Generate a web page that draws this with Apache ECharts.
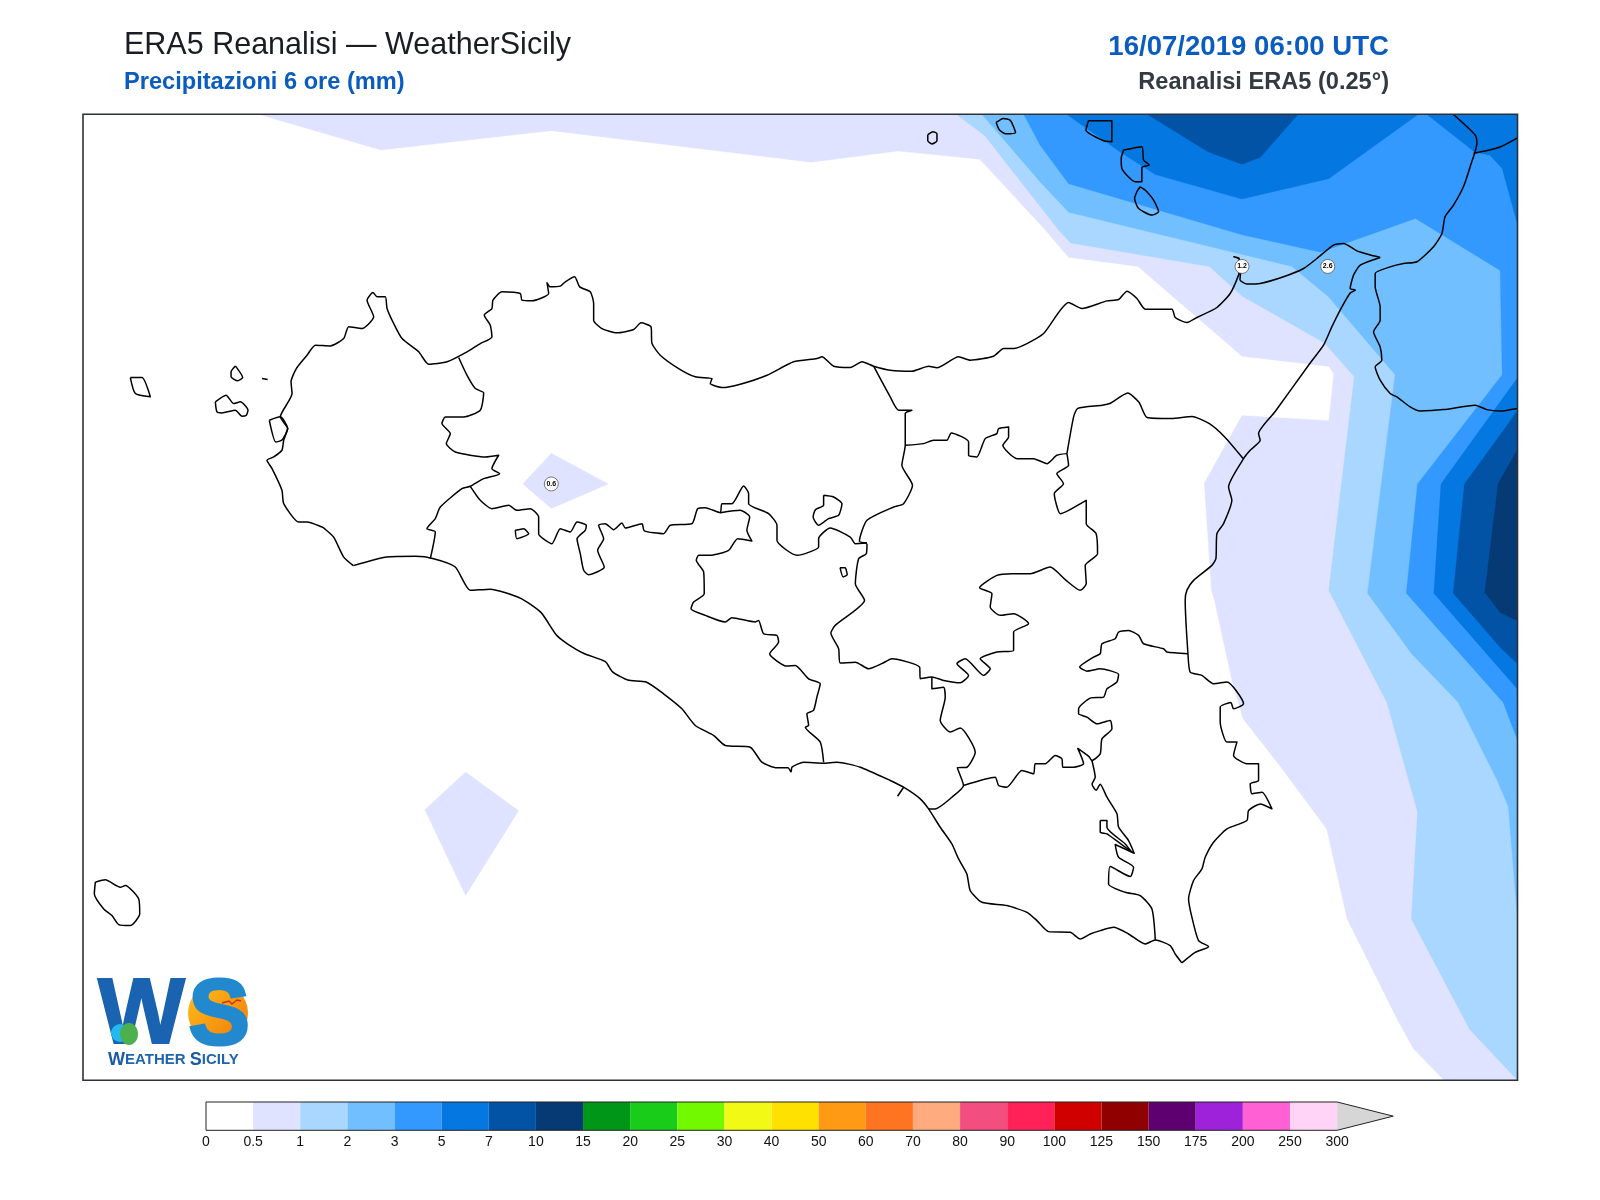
<!DOCTYPE html>
<html>
<head>
<meta charset="utf-8">
<title>ERA5 Reanalisi</title>
<script src="https://cdn.jsdelivr.net/npm/echarts@6/dist/echarts.min.js"></script>
<style>
  html, body { margin: 0; padding: 0; background: #fff; }
  #chart { width: 1600px; height: 1200px; }
</style>
</head>
<body>
<div id="chart"></div>
<script>
// colour scale
const cbarTicks = ['0','0.5','1','2','3','5','7','10','15','20','25','30','40','50','60','70','80','90','100','125','150','175','200','250','300'];
const cbarColors = ['#ffffff','#dfe3ff','#a9d7ff','#72bfff','#3399ff','#0577e0','#0253a6','#053a75','#009618','#1acc1a','#72f900','#f2f915','#ffe100','#ff9a14','#ff7420','#ffab80','#f24e80','#ff2157','#d10000','#900000','#5e0070','#9d22d9','#ff61d4','#ffd4f6'];

// filled rain bands (map units), lowest level first
const rain05main = [[253,112],[373,147],[540,128],[795,159],[880,148],[960,156],[1024,225],[1047,252],[1115,261],[1217,349],[1302,359],[1307,366],[1302,412],[1217,407],[1180,473],[1187,578],[1190,588],[1207,666],[1218,704],[1254,750],[1300,812],[1320,900],[1370,1000],[1385,1027],[1415,1058],[1487,1058],[1487,112]];
const rain05north = [[540,444],[596,474],[540,498],[512,474]];
const rain05south = [[456,756],[508,794],[456,877],[416,793]];
const rain1 = [[937,112],[965,133],[1037,225],[1049,238],[1185,261],[1217,290],[1298,336],[1327,369],[1302,578],[1359,688],[1389,795],[1383,900],[1440,1008],[1487,1058],[1487,112]];
const rain2 = [[962,112],[1019,178],[1047,208],[1266,261],[1302,291],[1367,367],[1340,581],[1383,640],[1429,688],[1467,764],[1478,790],[1487,900],[1487,112]];
const rain3 = [[1003,112],[1019,142],[1047,180],[1217,230],[1294,247],[1387,214],[1470,265],[1472,367],[1389,474],[1378,581],[1473,688],[1487,725],[1487,112]];
const rain5north = [[1045,112],[1099,150],[1132,171],[1217,195],[1302,175],[1387,114],[1390,112]];
const rain5east = [[1398,112],[1445,149],[1460,152],[1472,165],[1487,220],[1487,112]];
const rain5south = [[1487,370],[1412,474],[1405,581],[1487,675]];
const rain7north = [[1124,112],[1184,149],[1217,161],[1235,154],[1272,112]];
const rain7south = [[1487,402],[1470,426],[1435,474],[1424,581],[1470,634],[1487,650]];
const rain10south = [[1487,440],[1468,474],[1455,580],[1470,600],[1487,608]];

const rainBands = [
  [1, rain05main], [1, rain05north], [1, rain05south],
  [2, rain1], [3, rain2], [4, rain3],
  [5, rain5north], [5, rain5east], [5, rain5south],
  [6, rain7north], [6, rain7south], [7, rain10south]
];

// coast of the main island
const coastNorth = [[346,554],[336.5,545.6],[326.7,526],[318,518],[315.3,516.2],[300.6,511.3],[292.4,511.3],[277.7,493.3],[276,480.2],[266.3,459],[261.3,450.8],[267.9,447.6],[276,441],[277.7,431.2],[281.6,419.8],[274.4,408.3],[285.9,385.5],[284.9,374],[290.1,361],[300.6,347.9],[308.7,338.1],[323.4,338.8],[336.5,331.6],[341.4,320.1],[354.5,321.8],[365.9,310.3],[359.4,294],[365.2,286.5],[369.2,290.7],[377.3,290.7],[379,302.2],[385.5,316.9],[393.7,331.6],[410,344.6],[419.8,356.7],[437.8,354.4],[457.4,344.6],[470.4,336.5],[481.8,330],[480.2,318.5],[474.3,308.7],[481.8,302.2],[482.8,294],[491.6,285.8],[509.6,287.5],[511.2,294],[521,294.7],[537.4,287.5],[535.8,277],[539,281],[548.8,280.3],[553.7,276],[562.9,271.1],[567.8,281],[578.2,285.8],[581.5,297.3],[581.5,313.6],[589.6,321.8],[604.4,326],[620.7,322.8],[627.9,316.2],[637.7,320.1],[638.7,336.5],[646.8,347.9],[664.8,361],[681.1,369.1],[697.5,370.8],[695.8,375.7],[707.2,379.6],[725.2,376.3],[751.4,367.5],[777.5,354.4],[800.4,351.2],[805.3,349.5],[816.7,358.7],[833,360],[844.5,354.4],[855.9,358.7],[872.2,362.6],[893.4,363.6],[909.8,358.7],[917.9,360.3],[939.2,349.5],[950.6,352.8],[973.5,348.9],[983.3,341.4],[993.1,341.4],[1006.2,336.5],[1022.5,326.7],[1047,296.3],[1060,302.2],[1084.6,294.7],[1096,293.4],[1104.2,285.2],[1114,292.4],[1122.1,302.8],[1148.3,302.8],[1151.5,311],[1163,315.9],[1172.8,311],[1192.4,301.2],[1205.4,287.5],[1213.6,269.5],[1215,262],[1214,253],[1209,251.5],[1214,253.5],[1216,262],[1215,274],[1221.8,278.3],[1234.8,277.7],[1257.7,271.1],[1277.3,263],[1290.4,253.2],[1306.7,240.1],[1316.5,238.5],[1329.6,245.7],[1345.9,250.6],[1352.4,252.2]];
const coastEast = [[1352.4,252.2],[1332.8,259.7],[1326.3,269.5],[1323,282.6],[1328,284.2],[1323,287],[1314.9,300.6],[1305,320.2],[1296.9,338.1],[1282.2,357.7],[1249.5,403],[1233.2,424.7],[1234.8,431.2],[1225,441],[1218.5,449.2],[1203.8,477],[1207,490],[1198.9,512.9],[1192.4,522.7],[1191.4,547.2],[1187.5,553.7],[1169.5,568.4],[1163,578],[1161.3,588],[1164,640.3],[1166.2,658.2],[1177.7,661.5],[1189.1,669.7],[1202.2,668],[1218.5,689.3],[1208.7,694.2],[1206,688],[1195.6,692.5],[1195.6,707.2],[1202.2,726.8],[1212,726.8],[1208.7,739.9],[1221.8,748],[1233.2,748],[1233.2,764.4],[1225,767.7],[1226.7,777.5],[1236.5,775.9],[1246.3,792.2],[1234.8,787.3],[1223.4,793.8],[1221.8,803.6],[1202.2,811.8],[1189.1,824.9],[1180.9,839.6],[1177.7,851],[1169.5,862.4],[1164.6,880.4],[1167.9,898.4],[1174.4,921.2],[1184.2,927.1],[1171.1,932.7],[1158,943]];
const coastSouth = [[1158,943],[1151.5,934.3],[1146.6,926.1],[1132,920.6],[1122.1,924.5],[1105.8,914.7],[1091.1,908.2],[1078,911.4],[1068.2,914.7],[1058.4,919.6],[1048.6,913.1],[1027.4,912.4],[1016,901.6],[1006.2,893.5],[986.5,886.9],[962,883.7],[950.6,872.2],[947.3,855.9],[939.2,841.2],[932.6,826.5],[921.2,810.2],[909.8,792.2],[901.6,782.4],[885.3,771],[872.2,764.4],[842.8,751.4],[820,746.5],[806.9,747.4],[787.3,746.5],[775.9,751.4],[775,756],[772,752],[761.1,752],[746.4,746.5],[735,731.8],[710.5,730.1],[699,720.3],[681.1,710.5],[668,694.2],[650,679.5],[633,668],[615,666],[600,658],[593,648],[572,640],[555,630],[545,622],[530,600],[510,586],[480,577],[460.6,578.2],[445.9,555.3],[424.7,547.2],[406.7,544.9],[378.9,545.6],[346,554]];

// islands
const stagnone = [[263.6,411.6],[274.4,408.3],[281.6,419.8],[276,431],[270,433],[263.6,411.6]];
const marettimo = [[127.4,369.8],[138.8,369.8],[147,388.7],[132.3,385.5],[127.4,369.8]];
const favignana = [[210.7,393.6],[221.2,387.1],[228.7,395.3],[235.2,393.6],[242.7,401.8],[241.1,406.7],[236.8,407.7],[230.3,401.8],[217.2,404.4],[212.3,403.5],[210.7,393.6]];
const levanzo = [[230.3,358.4],[237.5,369.8],[232,373],[226.1,369.1],[226.1,364.2],[230.3,358.4]];
const formica = [[256.5,370.8],[262,371.8]];
const ustica = [[909,132],[914,129],[918,131],[918,138],[913,141],[909,138],[909,132]];
const filicudi = [[976,120],[983,116],[990,118],[995,130],[985,131],[979,127],[976,120]];
const salina = [[1066.6,118.3],[1089.4,118.3],[1089.4,138.8],[1081.3,137.9],[1064,127.4],[1066.6,118.3]];
const lipari = [[1100.9,147],[1118.8,143.7],[1120.5,156.8],[1126,161.7],[1118.8,164],[1118.8,178],[1112.3,178],[1099.2,165],[1098.6,155],[1100.9,147]];
const vulcano = [[1117.2,183],[1122,186.2],[1130.3,196],[1135.2,207.4],[1128.6,210.7],[1115.6,204.2],[1111.7,194.4],[1114,187.8],[1117.2,183]];
const pantelleria = [[93.1,864],[102.9,861.7],[117.6,869],[122.5,867.3],[135.6,880.4],[136.6,895],[127.4,906.5],[116,905.5],[109.4,896.7],[101.3,890.2],[92.1,875.5],[93.1,864]];

// Calabria, top right
const calabria = [[1424,112],[1445.5,132.3],[1447.2,140.5],[1440.6,163.3],[1434,183],[1424.3,200.9],[1416,212.3],[1412.9,228.7],[1404.7,241.7],[1388.4,256.4],[1375.3,258.1],[1362.2,261.4],[1347.5,267.9],[1347.5,281],[1352.4,300.6],[1352.4,313.6],[1345.9,325],[1352.4,339.8],[1354,352.8],[1347.5,359.3],[1352.4,372.4],[1362.2,385.5],[1368.7,388.7],[1381.8,398.5],[1391.6,402.5],[1414.5,401.2],[1445.5,396.9],[1457,401.2],[1470,402.5],[1487,400]];
const calabriaBorder = [[1443.9,150.3],[1455,148],[1470,144],[1487,135]];

// province borders
const borderTrapani = [[449.2,350.2],[457.3,367.5],[465.5,380.6],[473.7,384.8],[470.4,401.8],[454,408.4],[436.1,408.4],[432.8,414.9],[441,424.7],[437.1,434.5],[445.9,442.7],[475.3,447.6],[488.4,445.9],[481.8,459],[489.4,463.9],[473.7,468.8],[460.6,476.3],[452.4,478.6],[431.2,496.6],[426.3,508],[418.1,517.8],[426.3,521],[421.4,547.2]];
const borderPalermoSouth = [[460.6,476.3],[470.4,490],[481.8,498.2],[498.2,494.9],[506.3,499.8],[519.4,498.2],[527.6,506.4],[527.6,522.7],[540.6,532.5],[548.8,517.8],[558.6,521],[565.2,511.3],[574.3,514.5],[573.3,519.4],[565.2,527.6],[568.4,542.3],[571.7,558.6],[576.6,562.9],[591.9,555.4],[585.4,539],[591.3,527.6],[586.4,514.5],[592.9,512.9],[601,518.8],[609.2,512.2],[612.5,517.1],[628.9,512.9],[631.1,520],[650,522.7],[656.6,514.5],[677.9,512.9],[683.4,498.2],[690.9,497.2],[705.6,502.1],[707.2,493.3],[717,493.3],[728.5,476],[733.4,483.5],[733.4,493.3],[753,503.1],[761.2,514.5],[761.2,529.2],[780.8,543.9],[802,535.8],[802,527.6],[813.4,517.1],[833,526],[838,532.5],[849.4,531.9]];
const borderAgrigento = [[705.6,502.1],[725.2,499.8],[734.4,506.3],[731.7,519.4],[736.6,529.9],[722.6,527.6],[713.8,539],[695.8,543.9],[684.4,543.9],[682.1,548.8],[689.3,560.2],[689.9,581.5],[679.5,589.6],[676.9,596.2],[690.9,602.7],[710.5,609.2],[717,605],[740,609.2],[743.2,607.6],[748.1,620.7],[761.1,622.3],[762.8,628.8],[754,640.3],[771,652.4],[779.1,651.7],[792.2,664.8],[803.6,669.7],[800.3,682.8],[797,695.8],[790.5,699.1],[792.2,710.5],[789,712.2],[803.6,726.8],[806.9,746.5]];
const borderMadonie = [[849.4,531.9],[842,530],[849.4,509.6],[875.5,496.6],[885.3,493.3],[894,475.3],[883.6,455.7],[886.9,436.1],[886.9,418.2],[886.9,405],[893.4,401.8],[880.4,401.8],[872.2,388.8],[855.9,358.7]];
const borderNebrodi = [[886.9,436.1],[904.9,434.5],[914.7,431.2],[927.7,431.2],[932,424],[949,432.9],[949,445.9],[957.1,447.6],[965.3,429.6],[976.7,424.7],[978.4,419.8],[988.2,418.2],[988.2,428],[982.6,436.1],[996.4,449.2],[1012.7,449.2],[1025.8,454.1],[1035.5,445.9],[1045.4,444.3]];
const borderEtna = [[1045.4,444.3],[1047,455.7],[1035.5,463.9],[1042,473.7],[1033,483.5],[1038.8,503.1],[1047,499.8],[1064.3,490],[1064.3,512.9],[1074,522.7],[1075.4,542.3],[1063.3,553.7],[1064.3,571.7],[1058.4,578.2],[1044,568],[1029,555.4],[1009.4,561.9],[991.4,561.9],[976.7,563.5],[959.8,575.6],[971.9,581.5],[970.2,594.5],[980,602.7],[993.1,601],[1007.8,610.9],[993.1,619],[993.1,637],[976.8,638.6],[960.4,645.2],[970.2,655],[963.7,661.5],[945.7,645.2],[937.6,650],[949,661.5],[940.8,668.7],[924.5,666.4],[913,663.1],[901.6,664.8],[901,653.4],[873.9,645.2],[864,650],[851,655],[838,648.5],[823.2,649.4],[821.6,635.4],[814,620],[818.3,612.5],[847,588],[838,571.7],[841.2,547.2],[848.7,542.3],[849.4,532.5]];
const borderMessinaEast = [[1045.4,444.3],[1052,408],[1056,400],[1080,397],[1088,395],[1105,385],[1116,394],[1124,409],[1148,410],[1168,408],[1185,415],[1200,428],[1218,449]];
const borderCaltanissetta = [[913,663.1],[913,674.6],[924.5,673],[926.1,682.8],[921.2,705.6],[931,717],[940.8,713],[955.5,736.7],[947.4,751.4],[938,752],[944,769.3],[932.6,780.8],[916.3,792.2],[909.8,792.2]];
const borderCatania = [[944,769.3],[975,761.2],[978.4,769.3],[986.5,771],[1001.2,754.6],[1012.7,757.9],[1014.3,748],[1024.1,748],[1033.9,739.9],[1040.5,743.2],[1041.4,751.4],[1051.9,751.4],[1061.7,748],[1056,733],[1067,741],[1069.9,744.8],[1078,738.3],[1079.7,723.6],[1089.5,713.8],[1087.8,705.6],[1074.8,708.9],[1065,702.3],[1056.8,699.1],[1056.8,694.2],[1068.2,683.7],[1081.3,682.7],[1084.6,674.6],[1094.4,668],[1096,660.5],[1078,655],[1065,657.3],[1057.8,653.3],[1071.5,643.5],[1078,640.3],[1079.7,630.5],[1092.7,625.6],[1096,619],[1105.8,617.4],[1115.6,622.3],[1120.5,630.5],[1140,635.4],[1143.4,638.6],[1164,640.3]];
const borderRagusa = [[1069.9,744.8],[1073.1,761.2],[1070,768],[1074,774],[1078,768],[1084.6,780.8],[1094.4,797],[1096,810],[1105.8,823.2],[1111.3,835.6],[1092.7,827.1],[1096,839.6],[1110.7,849.4],[1107.4,858.5],[1087.8,848.7],[1086.2,865.7],[1102.5,873.9],[1117.2,877.1],[1128.7,890.2],[1132,920.6]];

// small lakes and inlets
const lakePantano = [[1078,803.6],[1084.6,803.6],[1084.6,810.2],[1102.5,826.5],[1109,834.7],[1084.6,816.7],[1078,815],[1078,803.6]];
const lakeEnna = [[823,556],[828,556],[830,563],[826,565],[823,556]];
const lakeArancio = [[504.7,519.4],[512.9,517.8],[517.8,522.7],[506.3,527.6],[504.7,519.4]];
const lakeMadonie = [[806.9,485.1],[816.7,486.8],[824.9,493.3],[821.6,504.7],[811.8,508],[802,514.5],[796.6,506.4],[798.8,499.2],[806.9,494.9],[806.9,485.1]];
const tickGela = [[885.3,771],[879.4,779.8]];

const mapLines = [coastNorth, coastEast, coastSouth, stagnone, marettimo, favignana, levanzo, formica, ustica, filicudi, salina, lipari, vulcano, pantelleria, calabria, calabriaBorder, borderTrapani, borderPalermoSouth, borderAgrigento, borderMadonie, borderNebrodi, borderEtna, borderMessinaEast, borderCaltanissetta, borderCatania, borderRagusa, lakePantano, lakeEnna, lakeArancio, lakeMadonie, tickGela];

// peak values written on the map
const peaks = [[540,474,'0.6'],[1217,261,'1.2'],[1301,261,'2.6']];

// colour bar outline, in cell units
const cbarOutline = [[0,0],[24,0],[25.19,0.5],[24,1],[0,1],[0,0]];
const cbarArrow = [[24,0],[25.19,0.5],[24,1]];

const FONT = '"Liberation Sans", Arial, sans-serif';

let series = [];

series.push({
  type: 'custom',
  name: 'rain',
  xAxisIndex: 0,
  yAxisIndex: 0,
  coordinateSystem: 'cartesian2d',
  silent: true,
  z: 2,
  clip: true,
  data: rainBands.map((b, i) => [i]),
  renderItem: function (params, api) {
    let band = rainBands[api.value(0)];
    return {
      type: 'polygon',
      shape: { points: band[1].map(p => api.coord(p)) },
      style: { fill: cbarColors[band[0]], stroke: cbarColors[band[0]], lineWidth: 0.3 }
    };
  }
});

mapLines.forEach(function (line) {
  series.push({
    type: 'line',
    xAxisIndex: 0,
    yAxisIndex: 0,
    data: line,
    showSymbol: false,
    silent: true,
    animation: false,
    smooth: 0.2,
    z: 3,
    lineStyle: { color: '#000', width: 1.5, join: 'round' }
  });
});

series.push({
  type: 'scatter',
  xAxisIndex: 0,
  yAxisIndex: 0,
  data: peaks,
  symbol: 'circle',
  symbolSize: 14,
  silent: true,
  z: 5,
  itemStyle: { color: '#fff', borderColor: '#444', borderWidth: 0.7, opacity: 1 },
  label: {
    show: true,
    position: 'inside',
    formatter: p => p.value[2],
    color: '#000',
    fontFamily: FONT,
    fontWeight: 'bold',
    fontSize: 7
  }
});

// colour bar cells
series.push({
  type: 'custom',
  name: 'cbar',
  xAxisIndex: 1,
  yAxisIndex: 1,
  coordinateSystem: 'cartesian2d',
  silent: true,
  z: 2,
  data: cbarColors.map((c, i) => [i]),
  renderItem: function (params, api) {
    let i = api.value(0);
    let a = api.coord([i, 1]);
    let b = api.coord([i + 1, 0]);
    return {
      type: 'rect',
      shape: { x: a[0], y: a[1], width: b[0] - a[0], height: b[1] - a[1] },
      style: { fill: cbarColors[i] }
    };
  }
});
series.push({
  type: 'custom',
  name: 'cbarArrow',
  xAxisIndex: 1,
  yAxisIndex: 1,
  coordinateSystem: 'cartesian2d',
  silent: true,
  z: 2,
  data: [[0]],
  renderItem: function (params, api) {
    return {
      type: 'polygon',
      shape: { points: cbarArrow.map(p => api.coord(p)) },
      style: { fill: '#d6d6d6' }
    };
  }
});
series.push({
  type: 'line',
  xAxisIndex: 1,
  yAxisIndex: 1,
  data: cbarOutline,
  showSymbol: false,
  silent: true,
  z: 3,
  clip: false,
  lineStyle: { color: '#222', width: 1 }
});

let option = {
  animation: false,
  backgroundColor: '#fff',
  textStyle: { fontFamily: FONT },
  grid: [
    { left: 83, top: 114.3, width: 1434.5, height: 966, show: false },
    { left: 206, top: 1102, width: 1187.2, height: 28.3, show: false }
  ],
  xAxis: [
    { type: 'value', gridIndex: 0, min: 81, max: 1487, show: false },
    {
      type: 'value',
      gridIndex: 1,
      min: 0,
      max: 25.19,
      interval: 1,
      axisLine: { show: false },
      axisTick: { show: false },
      splitLine: { show: false },
      axisLabel: {
        margin: 5,
        fontSize: 14,
        fontFamily: FONT,
        color: '#111',
        showMaxLabel: false,
        formatter: v => cbarTicks[v] === undefined ? '' : cbarTicks[v]
      }
    }
  ],
  yAxis: [
    { type: 'value', gridIndex: 0, min: 112, max: 1058, inverse: true, show: false },
    { type: 'value', gridIndex: 1, min: 0, max: 1, show: false }
  ],
  series: series,
  graphic: [
    { type: 'text', left: 124, top: 30, z: 10, style: { text: 'ERA5 Reanalisi \u2014 WeatherSicily', font: '30.5px ' + FONT, fill: '#1a1d24' } },
    { type: 'text', left: 124, top: 70, z: 10, style: { text: 'Precipitazioni 6 ore (mm)', font: 'bold 23.6px ' + FONT, fill: '#0a5cbe' } },
    { type: 'text', right: 211, top: 33, z: 10, style: { text: '16/07/2019 06:00 UTC', font: 'bold 27.6px ' + FONT, fill: '#0a5cbe' } },
    { type: 'text', right: 211, top: 70, z: 10, style: { text: 'Reanalisi ERA5 (0.25\u00b0)', font: 'bold 23.6px ' + FONT, fill: '#333a42' } },
    // map frame
    { type: 'rect', z: 20, silent: true, shape: { x: 83, y: 114.3, width: 1434.5, height: 966 }, style: { fill: 'none', stroke: '#2d3036', lineWidth: 1.6 } },
    // Weather Sicily logo
    {
      type: 'circle', z: 10, silent: true, shape: { cx: 218, cy: 1013, r: 30 },
      style: { fill: { type: 'linear', x: 0, y: 0, x2: 1, y2: 1, colorStops: [{ offset: 0, color: '#ffc21a' }, { offset: 1, color: '#f0780a' }] } }
    },
    { type: 'text', z: 11, silent: true, left: 97, top: 971, style: { text: 'W', font: 'bold 92px ' + FONT, fill: '#1a63b0', stroke: '#1a63b0', lineWidth: 2 } },
    { type: 'text', z: 11, silent: true, left: 187, top: 971, style: { text: 'S', font: 'bold 92px ' + FONT, fill: '#2389cf', stroke: '#2389cf', lineWidth: 3 } },
    { type: 'circle', z: 12, silent: true, shape: { cx: 120, cy: 1033, r: 9 }, style: { fill: '#22b8f0' } },
    { type: 'ellipse', z: 13, silent: true, shape: { cx: 129, cy: 1034, rx: 9, ry: 11 }, style: { fill: '#4db04f' } },
    { type: 'polyline', z: 13, silent: true, shape: { points: [[222, 1003], [229, 1001], [232, 1004], [237, 1000], [241, 1001]] }, style: { fill: 'none', stroke: '#c8321e', lineWidth: 1.4 } },
    {
      type: 'text', z: 11, silent: true, left: 108, top: 1051,
      style: {
        text: '{a|W}{b|EATHER }{a|S}{b|ICILY}',
        rich: {
          a: { font: 'bold 18px ' + FONT, fill: '#1b5aa5' },
          b: { font: 'bold 15px ' + FONT, fill: '#1f64ae' }
        }
      }
    }
  ]
};

let myChart = echarts.init(document.getElementById('chart'), null, { renderer: 'canvas' });
myChart.setOption(option);
</script>
</body>
</html>
